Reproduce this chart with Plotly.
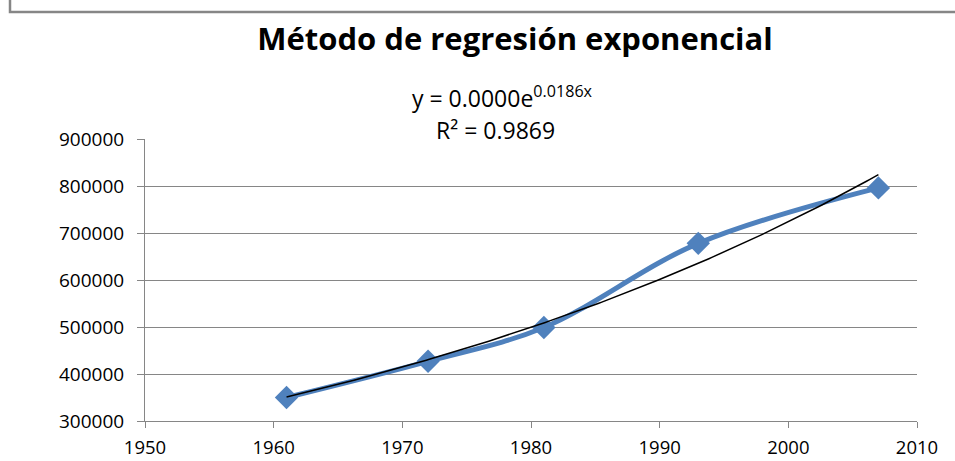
import numpy as np
import plotly.graph_objects as go

# Data
years = [1961, 1972, 1981, 1993, 2007]
population = [350000, 427000, 499000, 678000, 796000]
x_ticks = [1950, 1960, 1970, 1980, 1990, 2000, 2010]
y_ticks = [300000, 400000, 500000, 600000, 700000, 800000, 900000]
title_text = "Método de regresión exponencial"
equation_text = "y = 0.0000e<sup>0.0186x</sup>"
r2_text = "R² = 0.9869"

# Exponential trendline (least squares on ln y), as Excel does
b, ln_a = np.polyfit(years, np.log(population), 1)
trend_x = np.linspace(min(years), max(years), 200)
trend_y = np.exp(ln_a + b * trend_x)

FONT = "Open Sans"
GRID = "#868686"

fig = go.Figure()
fig.add_trace(go.Scatter(
    x=years, y=population, mode="lines+markers",
    line=dict(color="#4F81BD", width=5, shape="spline", smoothing=1.0),
    marker=dict(symbol="diamond", size=18, color="#4F81BD"),
    showlegend=False, cliponaxis=False, hoverinfo="skip",
))
fig.add_trace(go.Scatter(
    x=trend_x, y=trend_y, mode="lines",
    line=dict(color="black", width=1.5),
    showlegend=False, cliponaxis=False, hoverinfo="skip",
))

L, R, T, B = 145, 38, 139, 40
W, H = 955, 461
pw, ph = W - L - R, H - T - B

def px(xp):
    return (xp - L) / pw

def py(yp):
    return (H - B - yp) / ph

fig.update_layout(
    template="none",
    width=W, height=H,
    margin=dict(l=L, r=R, t=T, b=B, autoexpand=False),
    paper_bgcolor="white", plot_bgcolor="white",
    font=dict(family=FONT, color="black", size=19),
    title=dict(text="<b>" + title_text + "</b>", font=dict(family=FONT, size=31, color="black"),
               x=515 / W, xanchor="center", xref="container",
               y=1 - 39 / H, yanchor="middle", yref="container"),
    xaxis=dict(range=[1950, 2010], tickvals=x_ticks, ticktext=[str(v) for v in x_ticks],
               showgrid=False, showline=True, linecolor=GRID, linewidth=1,
               ticks="outside", ticklen=6, tickcolor=GRID, tickwidth=1, automargin=False,
               tickfont=dict(size=18.5, family=FONT), ticklabelstandoff=4, zeroline=False),
    yaxis=dict(range=[300000, 900000], tickvals=y_ticks, ticktext=[str(v) for v in y_ticks],
               showgrid=True, gridcolor=GRID, gridwidth=1,
               showline=True, linecolor=GRID, linewidth=1, automargin=False,
               ticks="outside", ticklen=7, tickcolor=GRID, tickwidth=1,
               tickfont=dict(size=19, family=FONT), ticklabelstandoff=9, zeroline=False),
    annotations=[
        dict(text=equation_text, xref="paper", yref="paper", x=px(502), y=py(97),
             xanchor="center", yanchor="middle", showarrow=False,
             font=dict(family=FONT, size=23, color="black")),
        dict(text=r2_text, xref="paper", yref="paper", x=px(495), y=py(130),
             xanchor="center", yanchor="middle", showarrow=False,
             font=dict(family=FONT, size=23, color="black")),
    ],
    shapes=[
        dict(type="path", xref="paper", yref="paper",
             path=f"M {px(10)},{py(-20)} L {px(10)},{py(12)} L {px(990)},{py(12)}",
             line=dict(color=GRID, width=2.5), layer="above"),
    ],
)

fig.write_html("out.html", config={"displayModeBar": False},
               post_script="document.body.style.margin='0px';")
